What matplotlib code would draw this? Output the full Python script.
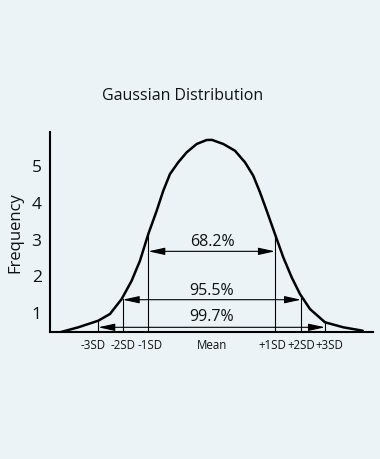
import matplotlib.pyplot as plt

# pontos da curva (x em unidades de SD, y em frequencia)
curve_x = [-2.375, -2.089, -1.777, -1.594, -1.411, -1.255, -1.125, -0.995, -0.864,
           -0.761, -0.656, -0.527, -0.395, -0.239, -0.083, 0.0, 0.177, 0.359, 0.516,
           0.645, 0.750, 0.855, 0.984, 1.114, 1.245, 1.375, 1.531, 1.766, 2.052, 2.355]
curve_y = [0.447, 0.583, 0.763, 0.946, 1.354, 1.853, 2.398, 3.125, 3.760,
           4.305, 4.760, 5.079, 5.351, 5.578, 5.687, 5.690, 5.578, 5.395, 5.079,
           4.714, 4.262, 3.760, 3.125, 2.490, 1.946, 1.490, 1.082, 0.719, 0.583, 0.490]

# linhas verticais dos desvios e onde encostam na curva
sd_x = [-1.777, -1.395, -0.995, 0.984, 1.391, 1.766]
sd_top = [0.763, 1.36, 3.125, 3.125, 1.44, 0.719]

# rotulos do eixo x
tick_x = [-1.855, -1.394, -0.961, 0.0, 0.945, 1.402, 1.839]
tick_labels = ['-3SD', '-2SD', '-1SD', 'Mean', '+1SD', '+2SD', '+3SD']

# setas de porcentagem
pct_left = [-0.995, -1.395, -1.777]
pct_right = [0.984, 1.391, 1.766]
pct_y = [2.653, 1.335, 0.583]
pct_labels = ['68.2%', '95.5%', '99.7%']
pct_label_y = [2.93, 1.608, 0.883]

y_ticks = [1, 2, 3, 4, 5]

bg = '#ebf3f7'
plt.rcParams['font.family'] = ['Open Sans', 'DejaVu Sans']

fig = plt.figure(figsize=(3.8, 4.6), dpi=100, facecolor=bg)
ax = fig.add_axes([50 / 380, 1 - 333 / 460, 323 / 380, 200 / 460], facecolor=bg)

ax.plot(curve_x, curve_y, color='black', lw=1.8, solid_joinstyle='round', solid_capstyle='round')

base = 0.455
for x, top in zip(sd_x, sd_top):
    ax.plot([x, x], [base, top], color='black', lw=0.8)

for x0, x1, y, txt, ty in zip(pct_left, pct_right, pct_y, pct_labels, pct_label_y):
    ax.annotate('', xy=(x1, y), xytext=(x0, y),
                arrowprops=dict(arrowstyle='<|-|>,head_length=1.0,head_width=0.22',
                                mutation_scale=10, color='black', lw=0.8,
                                shrinkA=0, shrinkB=0))
    ax.text(0, ty, txt, ha='center', va='center', fontsize=11.5, color='#111111')

ax.set_xlim(-2.531, 2.516)
ax.set_ylim(base, 5.905)

ax.set_yticks(y_ticks)
ax.set_yticklabels([str(v) for v in y_ticks], fontsize=12.5)
ax.set_xticks(tick_x)
ax.set_xticklabels(tick_labels, fontsize=8.3)
ax.tick_params(axis='both', length=0, colors='#111111')
ax.tick_params(axis='y', pad=6)
ax.tick_params(axis='x', pad=4)

ax.spines['top'].set_visible(False)
ax.spines['right'].set_visible(False)
ax.spines['left'].set_linewidth(1.5)
ax.spines['bottom'].set_linewidth(1.5)

ax.set_ylabel('Frequency', fontsize=12, color='#111111', labelpad=6)

fig.text(183 / 380, 1 - 96 / 460, 'Gaussian Distribution', ha='center', va='center',
         fontsize=11.5, color='#111111')

fig.savefig('out.png', dpi=100, facecolor=bg)
